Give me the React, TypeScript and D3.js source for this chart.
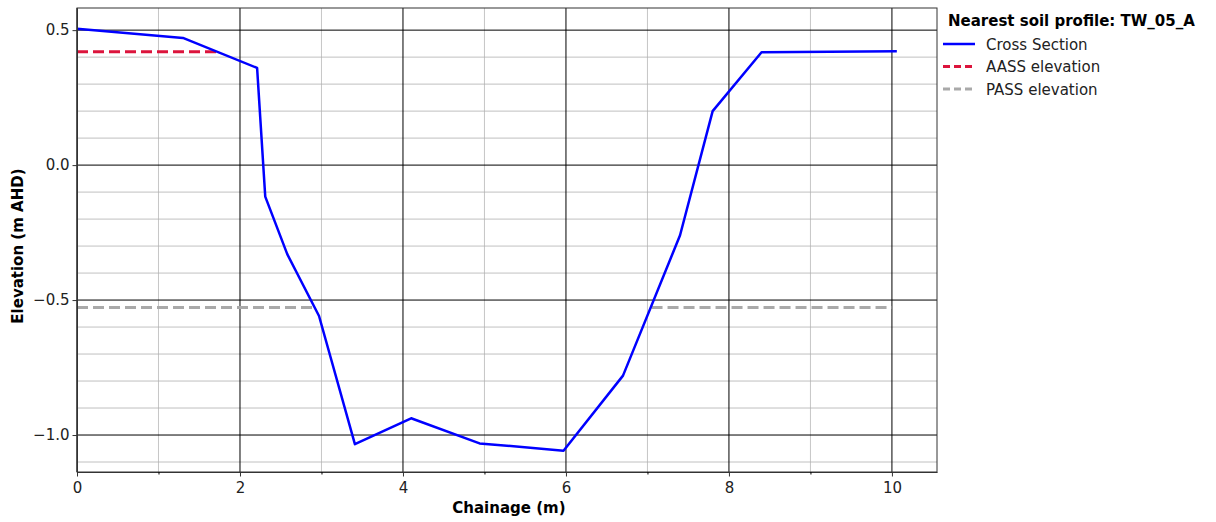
import React, { useEffect, useRef } from 'react';
import * as d3 from 'd3';

const chainage = [0, 1.3, 2.21, 2.31, 2.58, 2.97, 3.41, 4.1, 4.94, 5.97, 6.7, 7.4, 7.8, 8.4, 10.06];
const elevation = [0.505, 0.471, 0.36, -0.117, -0.33, -0.559, -1.034, -0.938, -1.031, -1.058, -0.78, -0.26, 0.2, 0.418, 0.422];

const aassLevel = 0.42;
const aassRange = [0, 1.72];
const passLevel = -0.528;
const passRanges = [[0, 2.92], [7.05, 10.0]];

const xTicks = [0, 2, 4, 6, 8, 10];
const yTicks = [0.5, 0.0, -0.5, -1.0];

const legendItems = [
  { label: 'Cross Section', color: '#0000ff', dash: null },
  { label: 'AASS elevation', color: '#dc143c', dash: '7,4' },
  { label: 'PASS elevation', color: '#a9a9a9', dash: '7,4' },
];

const App: React.FC = () => {
  const svgRef = useRef<SVGSVGElement>(null);
  const width = 1216;
  const height = 522;

  useEffect(() => {
    if (!svgRef.current) return;
    const svg = d3.select(svgRef.current);
    svg.selectAll('*').remove();

    const margin = { top: 8, right: 279, bottom: 50, left: 77 };
    const innerWidth = width - margin.left - margin.right;
    const innerHeight = height - margin.top - margin.bottom;
    const font = 'DejaVu Sans, sans-serif';
    const fs = '15px';

    const x = d3.scaleLinear().domain([0, 10.553]).range([0, innerWidth]);
    const y = d3.scaleLinear().domain([-1.137, 0.582]).range([innerHeight, 0]);

    const g = svg.append('g').attr('transform', `translate(${margin.left},${margin.top})`);

    // minor grid
    const xMinor = d3.range(1, 11, 2);
    const yMinor = d3.range(-11, 6).map(v => v / 10).filter(v => Math.abs(v * 2 - Math.round(v * 2)) > 1e-6);
    g.selectAll('.xminor').data(xMinor).enter().append('line')
      .attr('x1', d => x(d)).attr('x2', d => x(d))
      .attr('y1', 0).attr('y2', innerHeight)
      .attr('stroke', '#b8b8b8').attr('stroke-width', 0.8);
    g.selectAll('.yminor').data(yMinor).enter().append('line')
      .attr('x1', 0).attr('x2', innerWidth)
      .attr('y1', d => y(d)).attr('y2', d => y(d))
      .attr('stroke', '#b0b0b0').attr('stroke-width', 0.8);

    // major grid
    g.selectAll('.xmajor').data(xTicks).enter().append('line')
      .attr('x1', d => x(d)).attr('x2', d => x(d))
      .attr('y1', 0).attr('y2', innerHeight)
      .attr('stroke', '#000').attr('stroke-width', 1);
    g.selectAll('.ymajor').data(yTicks).enter().append('line')
      .attr('x1', 0).attr('x2', innerWidth)
      .attr('y1', d => y(d)).attr('y2', d => y(d))
      .attr('stroke', '#000').attr('stroke-width', 1);

    // reference levels
    g.append('line')
      .attr('x1', x(aassRange[0])).attr('x2', x(aassRange[1]))
      .attr('y1', y(aassLevel)).attr('y2', y(aassLevel))
      .attr('stroke', '#dc143c').attr('stroke-width', 3)
      .attr('stroke-dasharray', '11,5');
    passRanges.forEach(r => {
      g.append('line')
        .attr('x1', x(r[0])).attr('x2', x(r[1]))
        .attr('y1', y(passLevel)).attr('y2', y(passLevel))
        .attr('stroke', '#a9a9a9').attr('stroke-width', 3)
        .attr('stroke-dasharray', '11,5');
    });

    // cross section
    const pts = chainage.map((c, i) => [c, elevation[i]] as [number, number]);
    const line = d3.line<[number, number]>().x(d => x(d[0])).y(d => y(d[1]));
    g.append('path')
      .datum(pts)
      .attr('d', line)
      .attr('fill', 'none')
      .attr('stroke', '#0000ff')
      .attr('stroke-width', 2.5)
      .attr('stroke-linejoin', 'round');

    // frame
    g.append('rect')
      .attr('x', 0).attr('y', 0)
      .attr('width', innerWidth).attr('height', innerHeight)
      .attr('fill', 'none').attr('stroke', '#333').attr('stroke-width', 1);

    // axes
    const xAxis = g.append('g')
      .attr('transform', `translate(0,${innerHeight})`)
      .call(d3.axisBottom(x).tickValues(xTicks).tickFormat(d3.format('d')).tickSize(4.5).tickSizeOuter(0));
    g.append('g')
      .attr('transform', `translate(0,${innerHeight})`)
      .call(d3.axisBottom(x).tickValues(xMinor).tickFormat(() => '').tickSize(2.5).tickSizeOuter(0))
      .call(a => a.select('.domain').remove());
    const yAxis = g.append('g')
      .call(d3.axisLeft(y).tickValues(yTicks).tickFormat(d => d3.format('.1f')(d as number).replace('-', '\u2212')).tickSize(4.5).tickSizeOuter(0));

    [xAxis, yAxis].forEach(a => {
      a.select('.domain').attr('stroke', '#333');
      a.selectAll('.tick line').attr('stroke', '#333');
      a.selectAll('.tick text').style('font-family', font).style('font-size', fs).attr('fill', '#222');
    });
    xAxis.selectAll('.tick text').attr('dy', '0.9em');

    // axis titles
    svg.append('text')
      .attr('x', margin.left + x(5.3)).attr('y', 513)
      .attr('text-anchor', 'middle')
      .style('font-family', font).style('font-size', fs).style('font-weight', 'bold')
      .text('Chainage (m)');
    svg.append('text')
      .attr('transform', `translate(23,${margin.top + y(-0.3)}) rotate(-90)`)
      .attr('text-anchor', 'middle')
      .style('font-family', font).style('font-size', fs).style('font-weight', 'bold')
      .text('Elevation (m AHD)');

    // legend
    const lg = svg.append('g').attr('transform', 'translate(943,0)');
    lg.append('text')
      .attr('x', 5).attr('y', 26)
      .style('font-family', font).style('font-size', fs).style('font-weight', 'bold')
      .text('Nearest soil profile: TW_05_A');
    legendItems.forEach((item, i) => {
      const cy = 44 + i * 22.5;
      lg.append('line')
        .attr('x1', 0).attr('x2', 32).attr('y1', cy).attr('y2', cy)
        .attr('stroke', item.color).attr('stroke-width', item.dash ? 3 : 2.5)
        .attr('stroke-dasharray', item.dash ?? null);
      lg.append('text')
        .attr('x', 43).attr('y', cy + 5.5)
        .style('font-family', font).style('font-size', fs).attr('fill', '#222')
        .text(item.label);
    });
  }, []);

  return <svg ref={svgRef} width={width} height={height} style={{ display: 'block', position: 'absolute', left: 0, top: 0, background: 'white' }} />;
};

export default App;
